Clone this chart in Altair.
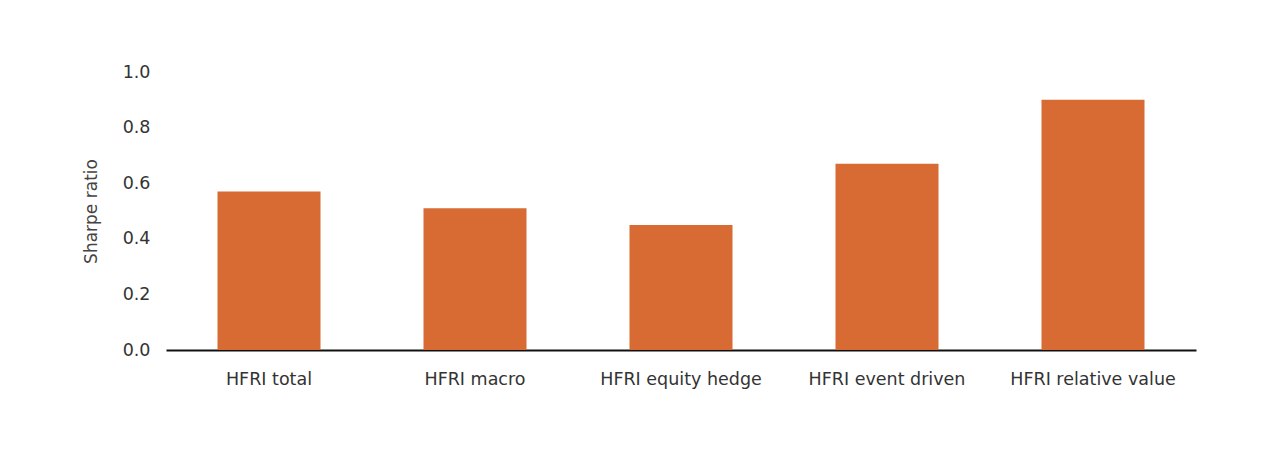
import altair as alt
import pandas as pd

categories = ["HFRI total", "HFRI macro", "HFRI equity hedge", "HFRI event driven", "HFRI relative value"]
sharpe = [0.57, 0.51, 0.45, 0.67, 0.90]

df = pd.DataFrame({"category": categories, "sharpe": sharpe})

FONT = "DejaVu Sans"

chart = alt.Chart(df).mark_bar(color="#D86B33").encode(
    x=alt.X("category:N", sort=categories, title=None,
            scale=alt.Scale(paddingInner=0.5, paddingOuter=0.25),
            axis=alt.Axis(labelAngle=0, labelFontSize=17.5, labelColor="#333333",
                          labelFont=FONT, labelPadding=20, ticks=False,
                          domainColor="#111111", domainWidth=2)),
    y=alt.Y("sharpe:Q", title="Sharpe ratio",
            scale=alt.Scale(domain=[0, 1]),
            axis=alt.Axis(values=[0, 0.2, 0.4, 0.6, 0.8, 1.0], format=".1f",
                          grid=False, domain=False, ticks=False,
                          labelFontSize=17.5, labelColor="#333333", labelFont=FONT,
                          labelPadding=16, titleFontSize=17, titleFont=FONT,
                          titleFontWeight="normal", titleColor="#444444",
                          titlePadding=22)),
).properties(
    width=1030, height=278,
    background="#ffffff",
    autosize=alt.AutoSizeParams(type="none"),
    padding={"left": 158, "top": 64, "right": 60, "bottom": 90},
).configure_view(strokeWidth=0, strokeOpacity=0)

chart.save("out.html", embed_options={"renderer": "svg", "actions": False})
